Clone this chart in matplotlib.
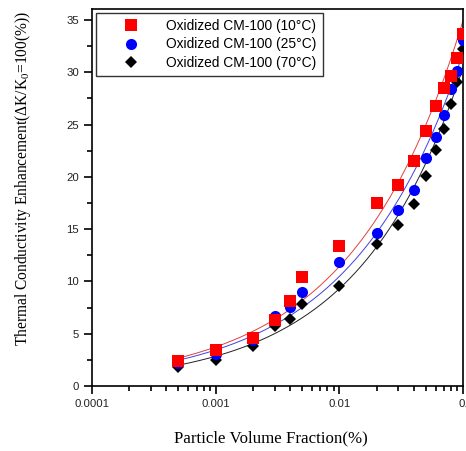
import numpy as np
import matplotlib
matplotlib.use("Agg")
import matplotlib.pyplot as plt
from matplotlib.ticker import FixedLocator, NullFormatter, LogLocator

plt.rcParams["mathtext.fontset"] = "custom"
plt.rcParams["mathtext.rm"] = "Liberation Serif"
plt.rcParams["mathtext.it"] = "Liberation Serif:italic"
plt.rcParams["mathtext.bf"] = "Liberation Serif:bold"

fraction = [0.0005, 0.001, 0.002, 0.003, 0.004, 0.005, 0.01, 0.02, 0.03,
            0.04, 0.05, 0.06, 0.07, 0.08, 0.09, 0.1]
temp_10C = [2.36, 3.48, 4.63, 6.35, 8.13, 10.43, 13.37, 17.45, 19.2,
            21.5, 24.4, 26.77, 28.46, 29.67, 31.4, 33.66]
temp_25C = [2.2, 3.1, 4.4, 6.67, 7.56, 9.0, 11.9, 14.64, 16.85,
            18.7, 21.8, 23.77, 25.87, 28.4, 30.15, 33.1]
temp_70C = [1.82, 2.52, 3.83, 5.74, 6.45, 7.88, 9.6, 13.56, 15.44,
            17.4, 20.1, 22.55, 24.56, 27.0, 29.1, 32.2]
labels = ["Oxidized CM-100 (10\u00b0C)", "Oxidized CM-100 (25\u00b0C)",
          "Oxidized CM-100 (70\u00b0C)"]
colors = ["#ff0000", "#0000ff", "#000000"]
markers = ["s", "o", "D"]
sizes = [8, 8, 6]


def fit_curve(x, y):
    # power-law fit y = a*x^b (linear fit in log-log space)
    x = np.asarray(x); y = np.asarray(y)
    b, la = np.polyfit(np.log(x), np.log(y), 1)
    xs = np.logspace(np.log10(x.min()), np.log10(x.max()), 300)
    return xs, np.exp(la) * xs ** b


fig = plt.figure(figsize=(4.66, 4.51), dpi=100)
ax = fig.add_axes([0.1974, 0.1441, 0.7962, 0.8349])

series = [temp_10C, temp_25C, temp_70C]
zorders = [5, 4, 3]
line_colors = ["#e04040", "#4040e0", "#202020"]
for ys, lc in zip(series, line_colors):
    xs, yf = fit_curve(fraction, ys)
    ax.plot(xs, yf, color=lc, lw=0.7, zorder=2)
for ys, lab, c, m, s, z in zip(series, labels, colors, markers, sizes, zorders):
    ax.plot(fraction, ys, linestyle="none", marker=m, color=c, ms=s,
            markeredgewidth=0, label=lab, zorder=z)

ax.set_xscale("log")
ax.set_xlim(0.0001, 0.1)
ax.set_ylim(0, 36)
ax.set_xticks([0.0001, 0.001, 0.01, 0.1])
ax.set_xticklabels(["0.0001", "0.001", "0.01", "0."])
ax.xaxis.set_minor_locator(LogLocator(base=10, subs=np.arange(2, 10)))
ax.xaxis.set_minor_formatter(NullFormatter())
ax.set_yticks([0, 5, 10, 15, 20, 25, 30, 35])
ax.yaxis.set_minor_locator(FixedLocator(np.arange(2.5, 36, 5)))

ax.tick_params(which="major", direction="out", length=6, width=1.2,
               labelsize=8.2, top=False, right=False)
ax.tick_params(which="minor", direction="out", length=3.5, width=1.2,
               top=False, right=False)
for lab in ax.get_xticklabels() + ax.get_yticklabels():
    lab.set_fontfamily("Liberation Sans")
    lab.set_color("#222222")
for sp in ax.spines.values():
    sp.set_linewidth(1.2)

ax.set_xlabel("Particle Volume Fraction(%)", family="Liberation Serif",
              fontsize=12.2, labelpad=15)
ax.xaxis.set_label_coords(0.481, -0.118)
ax.set_ylabel("Thermal Conductivity Enhancement(\u0394K/K$_0$=100(%))",
              family="Liberation Serif", fontsize=11.2)
ax.yaxis.set_label_coords(-0.158, 0.55)

leg = ax.legend(loc="upper left", bbox_to_anchor=(0.011, 0.991),
                prop={"family": "Liberation Sans", "size": 9.9},
                frameon=True, fancybox=False, edgecolor="black",
                borderpad=0.45, handletextpad=0.45, labelspacing=0.32,
                borderaxespad=0.0, handlelength=4.2)
leg.get_frame().set_linewidth(1.0)

fig.savefig("out.png", dpi=100)
